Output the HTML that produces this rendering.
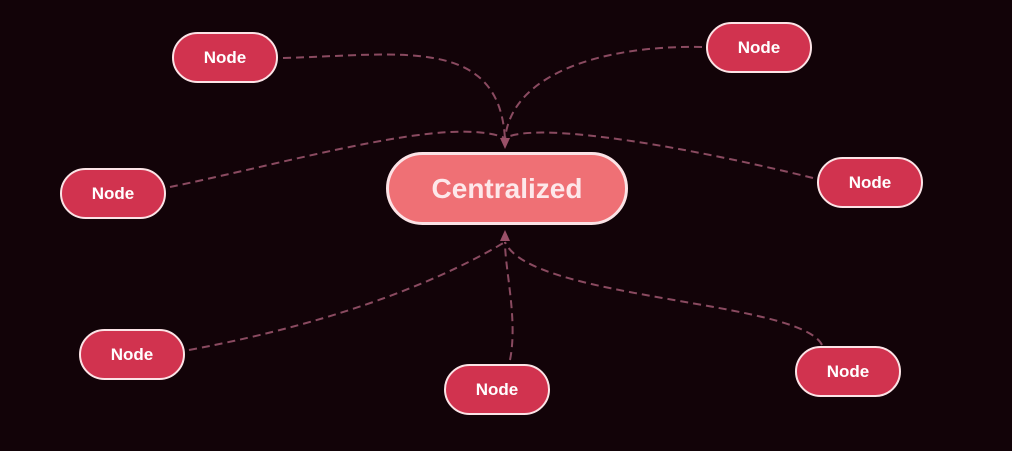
<!DOCTYPE html>
<html><head><style>
html,body{margin:0;padding:0;background:#120308;}
body{width:1012px;height:451px;position:relative;overflow:hidden;font-family:"Liberation Sans",sans-serif;}
.n{position:absolute;box-sizing:border-box;width:106px;height:51px;border:2.5px solid #fbe3e6;border-radius:26px;background:#d1334f;color:#fff;font-weight:bold;font-size:17px;display:flex;align-items:center;justify-content:center;}
.c{position:absolute;left:386px;top:152px;width:242px;height:73px;box-sizing:border-box;border:3px solid #fbe3e6;border-radius:37px;background:#ef7075;color:#fde8ea;font-weight:bold;font-size:28px;display:flex;align-items:center;justify-content:center;}
svg{position:absolute;left:0;top:0;}
</style></head><body>
<svg width="1012" height="451">
<g fill="none" stroke="#8a4a60" stroke-width="2" stroke-dasharray="8,5">
<path d="M283,58 C400,55 500,35 505,140"/>
<path d="M702,47 C600,45 510,75 505,140"/>
<path d="M170,187 C300,160 450,115 505,138"/>
<path d="M813,178 C700,150 540,120 505,138"/>
<path d="M189,350 C350,320 450,275 505,242"/>
<path d="M510,360 C518,320 505,270 505,242"/>
<path d="M822,345 C800,300 530,300 505,242"/>
</g>
<polygon points="500,138 510,138 505,149" fill="#9a5068"/>
<polygon points="500,241 510,241 505,230" fill="#9a5068"/>
</svg>
<div class="n" style="left:172px;top:32px">Node</div>
<div class="n" style="left:706px;top:22px">Node</div>
<div class="n" style="left:60px;top:168px">Node</div>
<div class="n" style="left:817px;top:157px">Node</div>
<div class="n" style="left:79px;top:329px">Node</div>
<div class="n" style="left:444px;top:364px">Node</div>
<div class="n" style="left:795px;top:346px">Node</div>
<div class="c">Centralized</div>
</body></html>
